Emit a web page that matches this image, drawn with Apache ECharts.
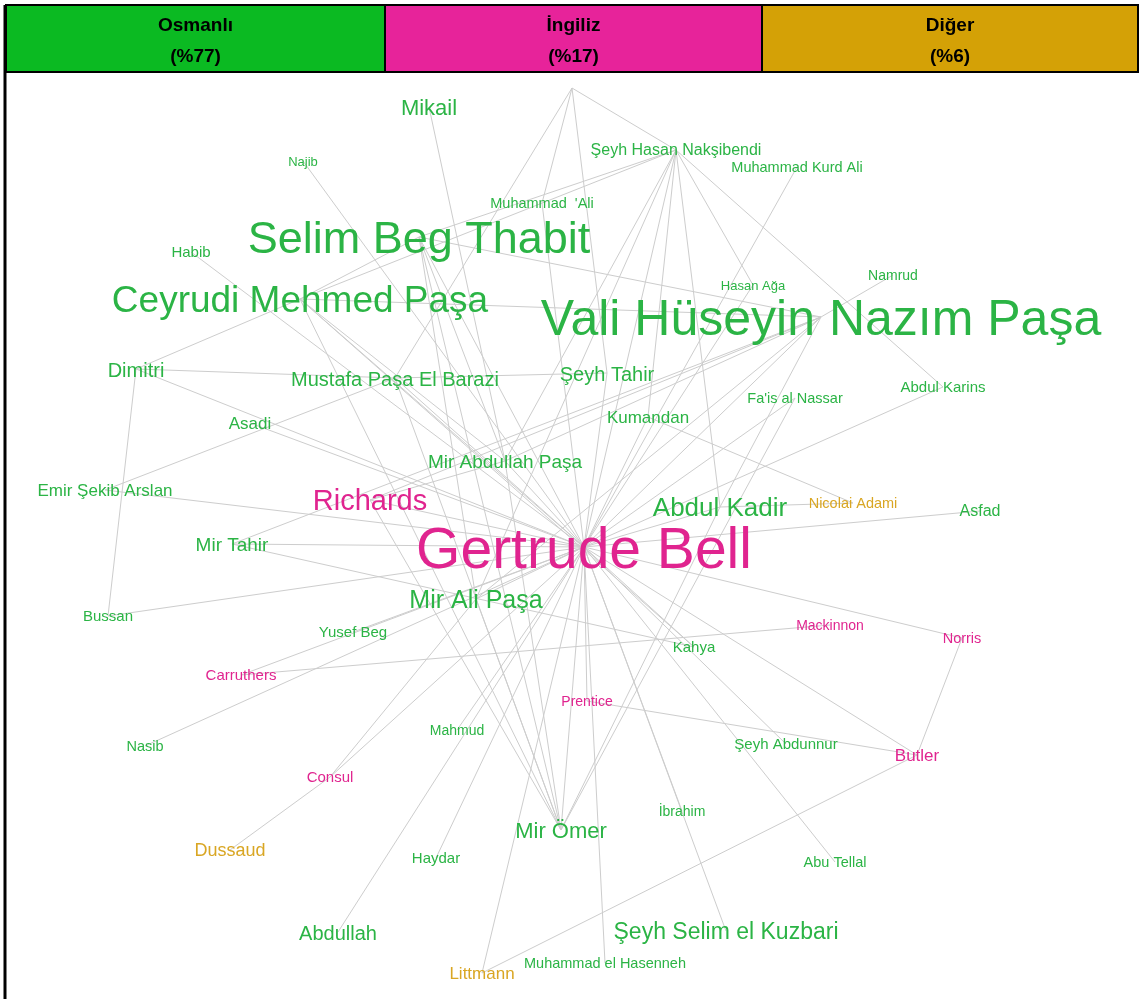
<!DOCTYPE html>
<html>
<head>
<meta charset="utf-8">
<script src="https://cdn.jsdelivr.net/npm/echarts@6/dist/echarts.min.js"></script>
<style>
  html, body { margin: 0; padding: 0; background: #fff; }
  #graph { width: 1139px; height: 999px; }
</style>
</head>
<body>
<div id="graph"></div>
<script>
// gruplar ve yuzdeleri
var groups = ['Osmanlı', 'İngiliz', 'Diğer'];
var shares = ['%77', '%17', '%6'];

// dugumler (ad, yerlesim koordinati, agirlik, grup)
var names = ['Bilinmeyen', 'Mikail', 'Najib', 'Şeyh Hasan Nakşibendi', 'Muhammad Kurd Ali', "Muhammad  'Ali",
  'Selim Beg Thabit', 'Habib', 'Namrud', 'Hasan Ağa', 'Ceyrudi Mehmed Paşa', 'Vali Hüseyin Nazım Paşa',
  'Dimitri', 'Mustafa Paşa El Barazi', 'Şeyh Tahir', 'Abdul Karins', "Fa'is al Nassar", 'Kumandan', 'Asadi',
  'Mir Abdullah Paşa', 'Emir Şekib Arslan', 'Richards', 'Nicolai Adami', 'Abdul Kadir', 'Asfad', 'Mir Tahir',
  'Gertrude Bell', 'Mir Ali Paşa', 'Bussan', 'Mackinnon', 'Yusef Beg', 'Norris', 'Kahya', 'Carruthers',
  'Prentice', 'Mahmud', 'Şeyh Abdunnur', 'Nasib', 'Butler', 'Consul', 'İbrahim', 'Mir Ömer', 'Dussaud',
  'Haydar', 'Abu Tellal', 'Abdullah', 'Şeyh Selim el Kuzbari', 'Muhammad el Hasenneh', 'Littmann'];
var posX = [572, 429, 303, 676, 797, 542, 419, 191, 893, 753, 300, 821, 136, 395, 607, 943, 795, 648, 250,
  505, 105, 370, 853, 720, 980, 232, 584, 476, 108, 830, 353, 962, 694, 241, 587, 457, 786, 145, 917, 330,
  682, 561, 230, 436, 835, 338, 726, 605, 482];
var posY = [88, 107, 161, 150, 167, 203, 237, 252, 275, 285, 299, 317, 369, 378, 373, 387, 398, 417, 423,
  461, 490, 500, 503, 507, 511, 544, 547, 599, 616, 625, 632, 638, 647, 675, 701, 730, 744, 746, 755, 777,
  811, 830, 850, 858, 862, 932, 931, 963, 973];
var weight = [0, 22, 13, 16, 14.5, 14.5, 45, 15, 14, 13, 37, 50, 20, 20, 20, 15, 14.5, 17, 17,
  19, 17, 29, 14.5, 26, 16, 19, 57, 25, 15, 14, 15, 14.5, 15, 15, 14, 14, 15, 14.5, 17, 15,
  14, 22, 18, 15, 14.5, 20, 23, 14.5, 17];
var group = [0, 0, 0, 0, 0, 0, 0, 0, 0, 0, 0, 0, 0, 0, 0, 0, 0, 0, 0, 0, 0, 1, 2, 0, 0, 0, 1, 0, 0, 1, 0, 1,
  0, 1, 1, 0, 0, 0, 1, 1, 0, 0, 2, 0, 0, 0, 0, 0, 2];

var GB = 'Gertrude Bell';
var VH = 'Vali Hüseyin Nazım Paşa';
var SH = 'Şeyh Hasan Nakşibendi';
var edges = [
  [GB, 'Najib'], [GB, 'Habib'], [GB, 'Dimitri'], [GB, 'Emir Şekib Arslan'], [GB, 'Asadi'], [GB, 'Mir Tahir'],
  [GB, 'Bussan'], [GB, 'Richards'], [GB, 'Mir Abdullah Paşa'], [GB, 'Mustafa Paşa El Barazi'],
  [GB, 'Selim Beg Thabit'], [GB, 'Ceyrudi Mehmed Paşa'], [GB, VH], [GB, SH], [GB, 'Muhammad Kurd Ali'],
  [GB, 'Hasan Ağa'], [GB, "Fa'is al Nassar"], [GB, 'Kumandan'], [GB, 'Şeyh Tahir'], [GB, 'Abdul Kadir'],
  [GB, 'Abdul Karins'], [GB, 'Asfad'], [GB, 'Norris'], [GB, 'Butler'], [GB, 'Abu Tellal'],
  [GB, 'Şeyh Selim el Kuzbari'], [GB, 'İbrahim'], [GB, 'Kahya'], [GB, 'Şeyh Abdunnur'],
  [GB, 'Muhammad el Hasenneh'], [GB, 'Mir Ömer'], [GB, 'Littmann'], [GB, 'Haydar'], [GB, 'Abdullah'],
  [GB, 'Consul'], [GB, 'Nasib'], [GB, 'Yusef Beg'], [GB, 'Carruthers'], [GB, 'Mahmud'], [GB, 'Mir Ali Paşa'],
  [GB, "Muhammad  'Ali"], [GB, 'Prentice'],
  ['Dimitri', 'Bussan'], ['Dimitri', 'Mustafa Paşa El Barazi'], ['Dimitri', 'Ceyrudi Mehmed Paşa'],
  ['Emir Şekib Arslan', 'Mustafa Paşa El Barazi'], ['Mikail', 'Mir Abdullah Paşa'],
  ['Bilinmeyen', 'Mustafa Paşa El Barazi'], ['Bilinmeyen', 'Şeyh Tahir'], ['Bilinmeyen', SH], ['Bilinmeyen', "Muhammad  'Ali"],
  [SH, 'Selim Beg Thabit'], [SH, 'Mir Abdullah Paşa'], [SH, 'Mir Ali Paşa'], [SH, 'Kumandan'], [SH, 'Abdul Kadir'],
  [SH, 'Hasan Ağa'], [SH, 'Abdul Karins'], [SH, 'Ceyrudi Mehmed Paşa'],
  [VH, 'Namrud'], [VH, 'Selim Beg Thabit'], [VH, 'Ceyrudi Mehmed Paşa'], [VH, 'Mir Abdullah Paşa'], [VH, 'Mir Ali Paşa'],
  [VH, 'Richards'], [VH, 'Mir Tahir'], [VH, 'Abdul Kadir'],
  ['Selim Beg Thabit', 'Ceyrudi Mehmed Paşa'], ['Selim Beg Thabit', 'Mir Abdullah Paşa'], ['Selim Beg Thabit', 'Mir Ali Paşa'],
  ['Selim Beg Thabit', 'Mir Ömer'], ['Ceyrudi Mehmed Paşa', 'Mir Abdullah Paşa'], ['Ceyrudi Mehmed Paşa', 'Mir Ömer'],
  ['Ceyrudi Mehmed Paşa', 'Kahya'], ['Mustafa Paşa El Barazi', 'Şeyh Tahir'], ['Mustafa Paşa El Barazi', 'Mir Ömer'],
  ['Richards', 'Mir Abdullah Paşa'], ['Richards', 'Mir Ömer'], ['Mir Tahir', 'Kahya'], ['Mir Abdullah Paşa', 'Mir Ömer'],
  ['Mir Ali Paşa', 'Mir Ömer'], ['Consul', 'Dussaud'], ['Consul', 'Mir Ali Paşa'], ['Carruthers', 'Mackinnon'],
  ['Littmann', 'Butler'], ['Butler', 'Norris'], ['Butler', 'Prentice'], ['Kumandan', 'Nicolai Adami'],
  ['Abdul Kadir', 'Nicolai Adami'], ['Mir Ömer', 'Abdul Kadir'], ["Fa'is al Nassar", 'Mir Ömer']
];

var headColors = ['#0bba22', '#e7239a', '#d4a106'];
var textColors = ['#2bb445', '#e0248f', '#d9a623'];

var nodes = names.map(function (n, i) {
  return {
    name: n,
    value: [posX[i], posY[i]],
    label: {
      show: weight[i] > 0,
      fontSize: weight[i],
      color: textColors[group[i]],
      offset: [0, Math.round(weight[i] * 0.08)]
    }
  };
});
var links = edges.map(function (e) { return { source: e[0], target: e[1] }; });

var cellX = [6, 385, 762, 1138];
var header = [];
groups.forEach(function (g, i) {
  header.push({
    type: 'rect',
    shape: { x: cellX[i], y: 5, width: cellX[i + 1] - cellX[i], height: 67 },
    style: { fill: headColors[i], stroke: '#000', lineWidth: 2 }
  });
  header.push({
    type: 'text',
    x: (cellX[i] + cellX[i + 1]) / 2, y: 41,
    style: {
      text: g + '\n(' + shares[i] + ')', fill: '#000', font: 'bold 19px "Liberation Sans"',
      textAlign: 'center', textVerticalAlign: 'middle', lineHeight: 31
    }
  });
});
header.push({ type: 'line', shape: { x1: 5, y1: 5, x2: 5, y2: 999 }, style: { stroke: '#000', lineWidth: 3 } });

var myChart = echarts.init(document.getElementById('graph'));
var option = {
  backgroundColor: '#fff',
  animation: false,
  grid: { left: 0, right: 0, top: 0, bottom: 0 },
  xAxis: { type: 'value', min: 0, max: 1139, show: false },
  yAxis: { type: 'value', min: 0, max: 999, inverse: true, show: false },
  graphic: header,
  series: [{
    type: 'graph',
    coordinateSystem: 'cartesian2d',
    symbolSize: 1,
    itemStyle: { color: 'rgba(0,0,0,0)' },
    label: { position: 'inside', fontFamily: 'Liberation Sans' },
    lineStyle: { color: '#cdcdcd', width: 1, opacity: 1, curveness: 0 },
    data: nodes,
    links: links
  }]
};
myChart.setOption(option);
window.onresize = () => myChart.resize();
</script>
</body>
</html>
